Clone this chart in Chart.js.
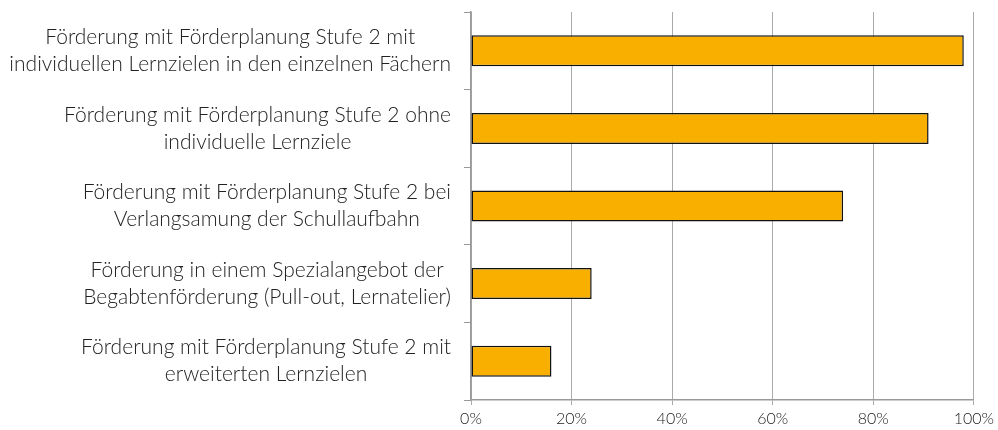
<!DOCTYPE html>
<html>
<head>
<meta charset="utf-8">
<script src="https://cdn.jsdelivr.net/npm/chart.js@4"></script>
<style>
  html, body { margin: 0; padding: 0; background: #fff; }
  #wrap { width: 998px; height: 430px; position: relative; }
</style>
</head>
<body>
<div id="wrap"><canvas id="chart"></canvas></div>
<script>
// ------------------------------
// DATA
// ------------------------------
const categories = [
  ['Förderung mit Förderplanung Stufe 2 mit', 'individuellen Lernzielen in den einzelnen Fächern'],
  ['Förderung mit Förderplanung Stufe 2 ohne', 'individuelle Lernziele'],
  ['Förderung mit Förderplanung Stufe 2 bei', 'Verlangsamung der Schullaufbahn'],
  ['Förderung in einem Spezialangebot der', 'Begabtenförderung (Pull-out, Lernatelier)'],
  ['Förderung mit Förderplanung Stufe 2 mit', 'erweiterten Lernzielen']
];
const shares = [98, 91, 74, 24, 16];
const xTicks = [0, 20, 40, 60, 80, 100];

const labelFont = '300 21px Lato';

// draws the category labels: block right-aligned, lines centered in block
const categoryLabels = {
  id: 'categoryLabels',
  afterDraw(chart) {
    const ctx = chart.ctx;
    const yScale = chart.scales.y;
    const lineHeight = 27;
    ctx.save();
    ctx.font = labelFont;
    ctx.fillStyle = '#222';
    ctx.textAlign = 'center';
    ctx.textBaseline = 'middle';
    categories.forEach((lines, i) => {
      const yMid = yScale.getPixelForValue(i);
      const maxW = Math.max(...lines.map(l => ctx.measureText(l).width));
      const cx = yScale.right - 20 - maxW / 2;
      lines.forEach((line, j) => {
        const y = yMid + (j - (lines.length - 1) / 2) * lineHeight;
        ctx.fillText(line, cx, y);
      });
    });
    ctx.restore();
  }
};

const ctx = document.getElementById('chart').getContext('2d');
new Chart(ctx, {
  type: 'bar',
  data: {
    labels: categories.map(c => c.join(' ')),
    datasets: [{
      data: shares,
      backgroundColor: '#F8AF00',
      borderColor: '#111',
      borderWidth: 1.5,
      borderSkipped: false,
      barPercentage: 0.4,
      categoryPercentage: 1.0
    }]
  },
  options: {
    indexAxis: 'y',
    responsive: true,
    maintainAspectRatio: false,
    animation: false,
    layout: { padding: { top: 12, right: 21, bottom: 0, left: 0 } },
    plugins: {
      legend: { display: false },
      tooltip: { enabled: false }
    },
    scales: {
      x: {
        min: 0,
        max: 100,
        afterBuildTicks: scale => { scale.ticks = xTicks.map(v => ({ value: v })); },
        afterFit: scale => { scale.height = 30; },
        border: { color: '#999', width: 1.5 },
        grid: { color: '#aaa', lineWidth: 1, tickLength: 5, drawTicks: true },
        ticks: {
          padding: 4,
          color: '#222',
          font: { family: 'Lato', weight: 300, size: 16 },
          callback: v => v + '%'
        }
      },
      y: {
        afterFit: scale => { scale.width = 471; },
        border: { color: '#999', width: 1.5 },
        grid: { display: true, drawOnChartArea: false, drawTicks: true, tickLength: 7, color: '#999', offset: true },
        ticks: { display: false }
      }
    }
  },
  plugins: [categoryLabels]
});
</script>
</body>
</html>
